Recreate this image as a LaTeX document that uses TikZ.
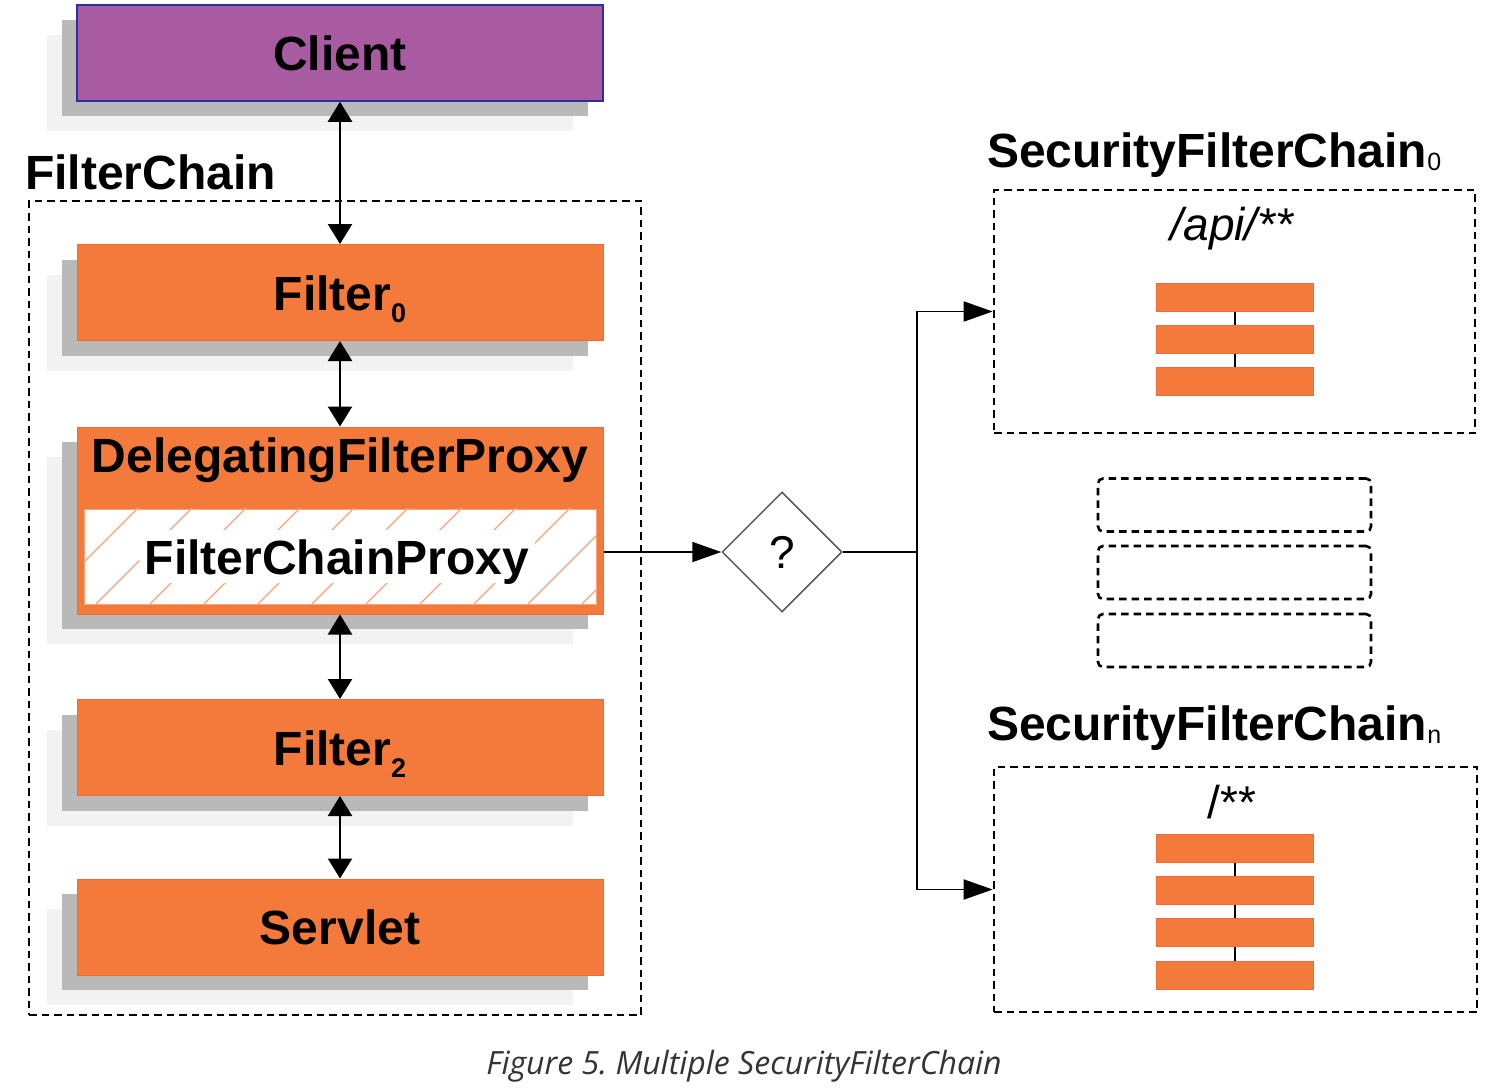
\documentclass[tikz,border=0pt]{standalone}
\usepackage{fontspec}
\setmainfont{Liberation Sans}
\newfontfamily\captionfont{Open Sans}
\usetikzlibrary{arrows.meta,shapes.geometric,shadows}

\definecolor{springorange}{HTML}{F47A3C}
\definecolor{orangeline}{HTML}{F06A3A}
\definecolor{hatchorange}{HTML}{F9A47A}
\definecolor{clientpurple}{HTML}{A85BA0}
\definecolor{clientline}{HTML}{2E2E9E}
\definecolor{shadowgray}{HTML}{B9B9B9}
\definecolor{halogray}{HTML}{F2F2F2}
\definecolor{capgray}{HTML}{333333}

\newcommand\diagfont{\bfseries\fontsize{48}{52}\selectfont}
\newcommand\lowsub[1]{\raisebox{-12pt}{\fontsize{27}{27}\selectfont #1}}
\newcommand\chainsub[1]{\raisebox{-3pt}{\mdseries\fontsize{25}{25}\selectfont #1}}

\tikzset{
  boxshadow/.style={
    general shadow={fill=halogray, shadow xshift=-30pt, shadow yshift=-30pt},
    general shadow={fill=shadowgray, shadow xshift=-15pt, shadow yshift=-15pt}},
  filterbox/.style={boxshadow, rectangle, fill=springorange, draw=orangeline,
    line width=1pt, minimum width=526pt, minimum height=96pt, inner sep=0pt,
    font=\diagfont, text height=35pt, text depth=0pt},
  clientbox/.style={filterbox, fill=clientpurple, draw=clientline, line width=1.5pt},
  dashbox/.style={draw, line width=2.6pt, dash pattern=on 7.5pt off 5pt, inner sep=0pt},
  minibar/.style={rectangle, fill=springorange, draw=orangeline, line width=0.6pt,
    minimum width=157pt, minimum height=28pt, inner sep=0pt},
  hatch/.style={draw=hatchorange, line width=1.3pt},
  bothway/.style={{Triangle[length=20pt,width=24pt]}-{Triangle[length=20pt,width=24pt]}, line width=2.2pt},
  oneway/.style={-{Triangle[length=29pt,width=20pt]}, line width=1.8pt},
  decide/.style={diamond, draw=black!65, line width=1.5pt, fill=white, aspect=1,
    minimum width=120pt, minimum height=120pt, inner sep=0pt,
    font=\fontsize{46}{50}\selectfont},
  chaintitle/.style={anchor=base west, inner sep=0pt, font=\diagfont},
  pattern/.style={anchor=base, inner sep=0pt, font=\itshape\fontsize{46}{50}\selectfont}
}

\begin{document}
\begin{tikzpicture}[x=1pt,y=-1pt]
  \useasboundingbox (0,0) rectangle (1510,1090);

  % filter chain frame
  \node[dashbox, minimum width=612pt, minimum height=814pt] (filterchain) at (335,608) {};
  \node[chaintitle] (filterchaintitle) at (25,189) {FilterChain};

  % left column
  \node[clientbox] (client) at (340,53) {Client};
  \node[filterbox] (filter0) at (340,292.5) {Filter\lowsub{0}};
  \node[filterbox, minimum height=187pt] (dfp) at (340,520.5) {};
  \node[rectangle, draw=hatchorange, line width=1pt, fill=white,
    minimum width=512pt, minimum height=95pt, inner sep=0pt] (fcp) at (340,556.5) {};
  \begin{scope}
    \clip (fcp.south west) rectangle (fcp.north east);
    \foreach \k in {0,...,11}
      \draw[hatch] (42+\k*54,604) -- ++(200,-200);
  \end{scope}
  \node[fill=white, minimum width=396pt, minimum height=53pt, inner sep=0pt,
    font=\diagfont, text height=35pt, text depth=0pt] (fcplabel) at (337,556.5) {FilterChainProxy};
  \node[font=\diagfont, inner sep=0pt, text height=35pt, text depth=0pt] (dfptitle) at (340,455) {DelegatingFilterProxy};
  \node[filterbox] (filter2) at (340,747.5) {Filter\lowsub{2}};
  \node[filterbox] (servlet) at (340,927) {Servlet};

  \draw[bothway] (client) -- (filter0);
  \draw[bothway] (filter0) -- (dfp);
  \draw[bothway] (dfp) -- (filter2);
  \draw[bothway] (filter2) -- (servlet);

  % dispatch
  \node[decide] (decide) at (782,552) {?};
  \coordinate (split) at (917,552);
  \draw[oneway] (dfp.east |- decide) -- (decide.west);
  \draw[line width=1.8pt] (decide.east) -- (split);

  % security filter chains
  \node[chaintitle] (chain0title) at (987,167) {SecurityFilterChain\chainsub{0}};
  \node[dashbox, minimum width=481pt, minimum height=243pt] (chain0) at (1234.5,311.5) {};
  \node[pattern] (api) at (1232,240) {/api/**};
  \draw[line width=1.5pt] (1235,297) -- (1235,381);
  \foreach \y/\n in {297/a,339/b,381/c}
    \node[minibar] (bar0\n) at (1235,\y) {};

  \foreach \y/\n in {505/a,572.5/b,640.5/c}
    \node[dashbox, rounded corners=5pt, minimum width=273pt, minimum height=53pt] (spare\n) at (1234.5,\y) {};

  \node[chaintitle] (chainntitle) at (987,740) {SecurityFilterChain\chainsub{n}};
  \node[dashbox, minimum width=483pt, minimum height=245pt] (chainn) at (1235.5,889.5) {};
  \node[pattern, font=\fontsize{46}{50}\selectfont] (any) at (1232,818) {/**};
  \draw[line width=1.5pt] (1235,848) -- (1235,975.5);
  \foreach \y/\n in {848/a,890/b,932/c,975.5/d}
    \node[minibar] (barn\n) at (1235,\y) {};

  \draw[oneway] (split) |- (chain0.west);
  \draw[oneway] (split) |- (chainn.west);

  % caption
  \node[anchor=base, inner sep=0pt, text=capgray,
    font=\captionfont\itshape\fontsize{32}{36}\selectfont] (caption) at (744,1074) {Figure 5.\ Multiple SecurityFilterChain};
\end{tikzpicture}
\end{document}
